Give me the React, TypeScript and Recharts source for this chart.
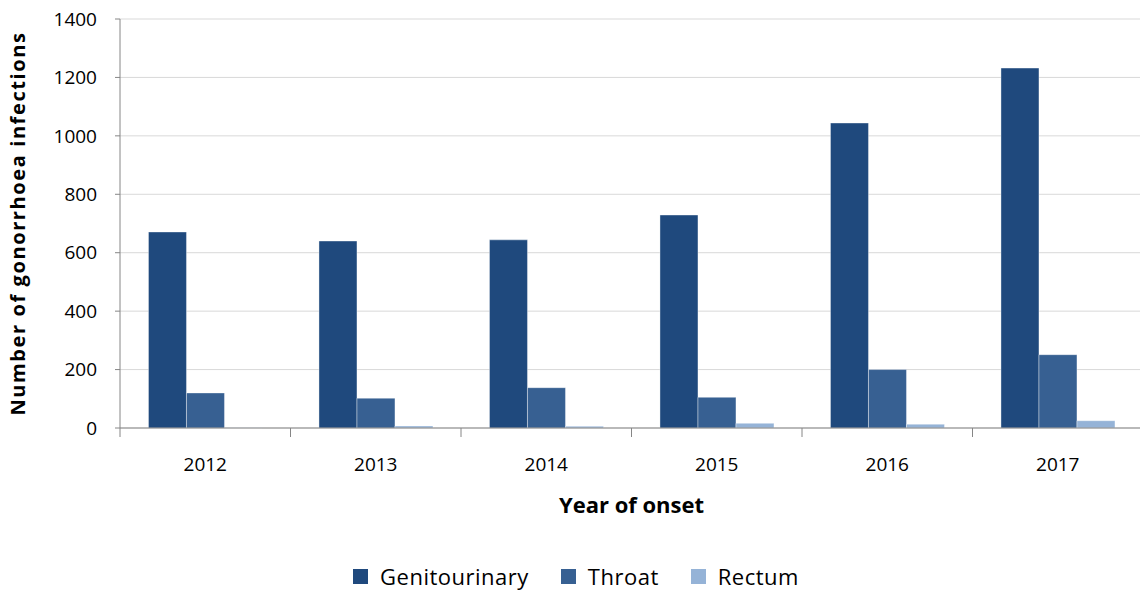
import React from "react";
import { BarChart, Bar, XAxis, YAxis, CartesianGrid, Label } from "recharts";

const years = ["2012", "2013", "2014", "2015", "2016", "2017"];
const genitourinary = [671, 640, 644, 729, 1044, 1232];
const throat = [120, 102, 138, 105, 200, 251];
const rectum = [1, 7, 6, 16, 13, 25];
const yTicks = [0, 200, 400, 600, 800, 1000, 1200, 1400];

const seriesNames = ["Genitourinary", "Throat", "Rectum"];
const colors = ["#1F497D", "#376092", "#95B3D7"];

const data = years.map((y, i) => ({
  year: y,
  Genitourinary: genitourinary[i],
  Throat: throat[i],
  Rectum: rectum[i],
}));

const FONT = "'Open Sans', sans-serif";
const CHART_W = 1146;
const CHART_H = 590;
const XAXIS_H = 90;
const M = { top: 19, right: 3, left: 0, bottom: 72 };
const YAXIS_W = 120;
const PLOT_W = CHART_W - M.left - M.right - YAXIS_W;
const BAND = PLOT_W / years.length;

const XTick = (props: any) => {
  const { x, y, payload, index } = props;
  const left = x - BAND / 2;
  const right = x + BAND / 2;
  return (
    <g>
      <line x1={left} y1={y} x2={left} y2={y + 9} stroke="#868686" strokeWidth={1} />
      {index === years.length - 1 && (
        <line x1={right} y1={y} x2={right} y2={y + 9} stroke="#868686" strokeWidth={1} />
      )}
      <text x={x} y={y + 43} textAnchor="middle" fontFamily={FONT} fontSize={19} fill="#000">
        {payload.value}
      </text>
    </g>
  );
};

const LegendBox = () => (
  <div
    style={{
      position: "absolute",
      left: 0,
      top: 562,
      width: 1152,
      height: 28,
      display: "flex",
      justifyContent: "center",
      alignItems: "center",
      fontFamily: FONT,
      fontSize: 22,
      letterSpacing: 0.5,
      color: "#000",
    }}
  >
    {seriesNames.map((n, i) => (
      <div key={n} style={{ display: "flex", alignItems: "center", marginRight: i < 2 ? 32 : 0 }}>
        <span
          style={{
            display: "inline-block",
            width: 15,
            height: 15,
            background: colors[i],
            marginRight: 12,
          }}
        />
        <span>{n}</span>
      </div>
    ))}
  </div>
);

export default function App() {
  return (
    <div style={{ position: "absolute", left: 0, top: 0, width: 1140, height: 590, overflow: "hidden", background: "#fff" }}>
      <BarChart
        width={CHART_W}
        height={CHART_H}
        data={data}
        margin={M}
        barCategoryGap="16.7%"
        barGap={0}
      >
        <CartesianGrid horizontal={true} vertical={false} stroke="#D9D9D9" strokeWidth={1} />
        <XAxis
          dataKey="year"
          axisLine={{ stroke: "#868686", strokeWidth: 1 }}
          tickLine={false}
          tickSize={0}
          tickMargin={0}
          tick={<XTick />}
          interval={0}
          height={XAXIS_H}
        >
          <Label
            value="Year of onset"
            position="insideBottom"
            offset={5}
            style={{ fontFamily: FONT, fontSize: 22, fontWeight: 700, fill: "#000" }}
          />
        </XAxis>
        <YAxis
          width={YAXIS_W}
          domain={[0, 1400]}
          ticks={yTicks}
          interval={0}
          axisLine={{ stroke: "#868686", strokeWidth: 1 }}
          tickLine={{ stroke: "#868686", strokeWidth: 1 }}
          tickSize={5}
          tickMargin={18}
          tick={{ fontFamily: FONT, fontSize: 19, fill: "#000" }}
        >
          <Label
            value="Number of gonorrhoea infections"
            angle={-90}
            position="insideLeft"
            offset={18}
            style={{ fontFamily: FONT, fontSize: 20, fontWeight: 700, letterSpacing: 1.6, fill: "#000", textAnchor: "middle" }}
          />
        </YAxis>
        {seriesNames.map((n, i) => (
          <Bar
            key={n}
            dataKey={n}
            fill={colors[i]}
            stroke="#FFFFFF"
            strokeOpacity={0.5}
            strokeWidth={0.75}
            isAnimationActive={false}
          />
        ))}
      </BarChart>
      <LegendBox />
    </div>
  );
}
